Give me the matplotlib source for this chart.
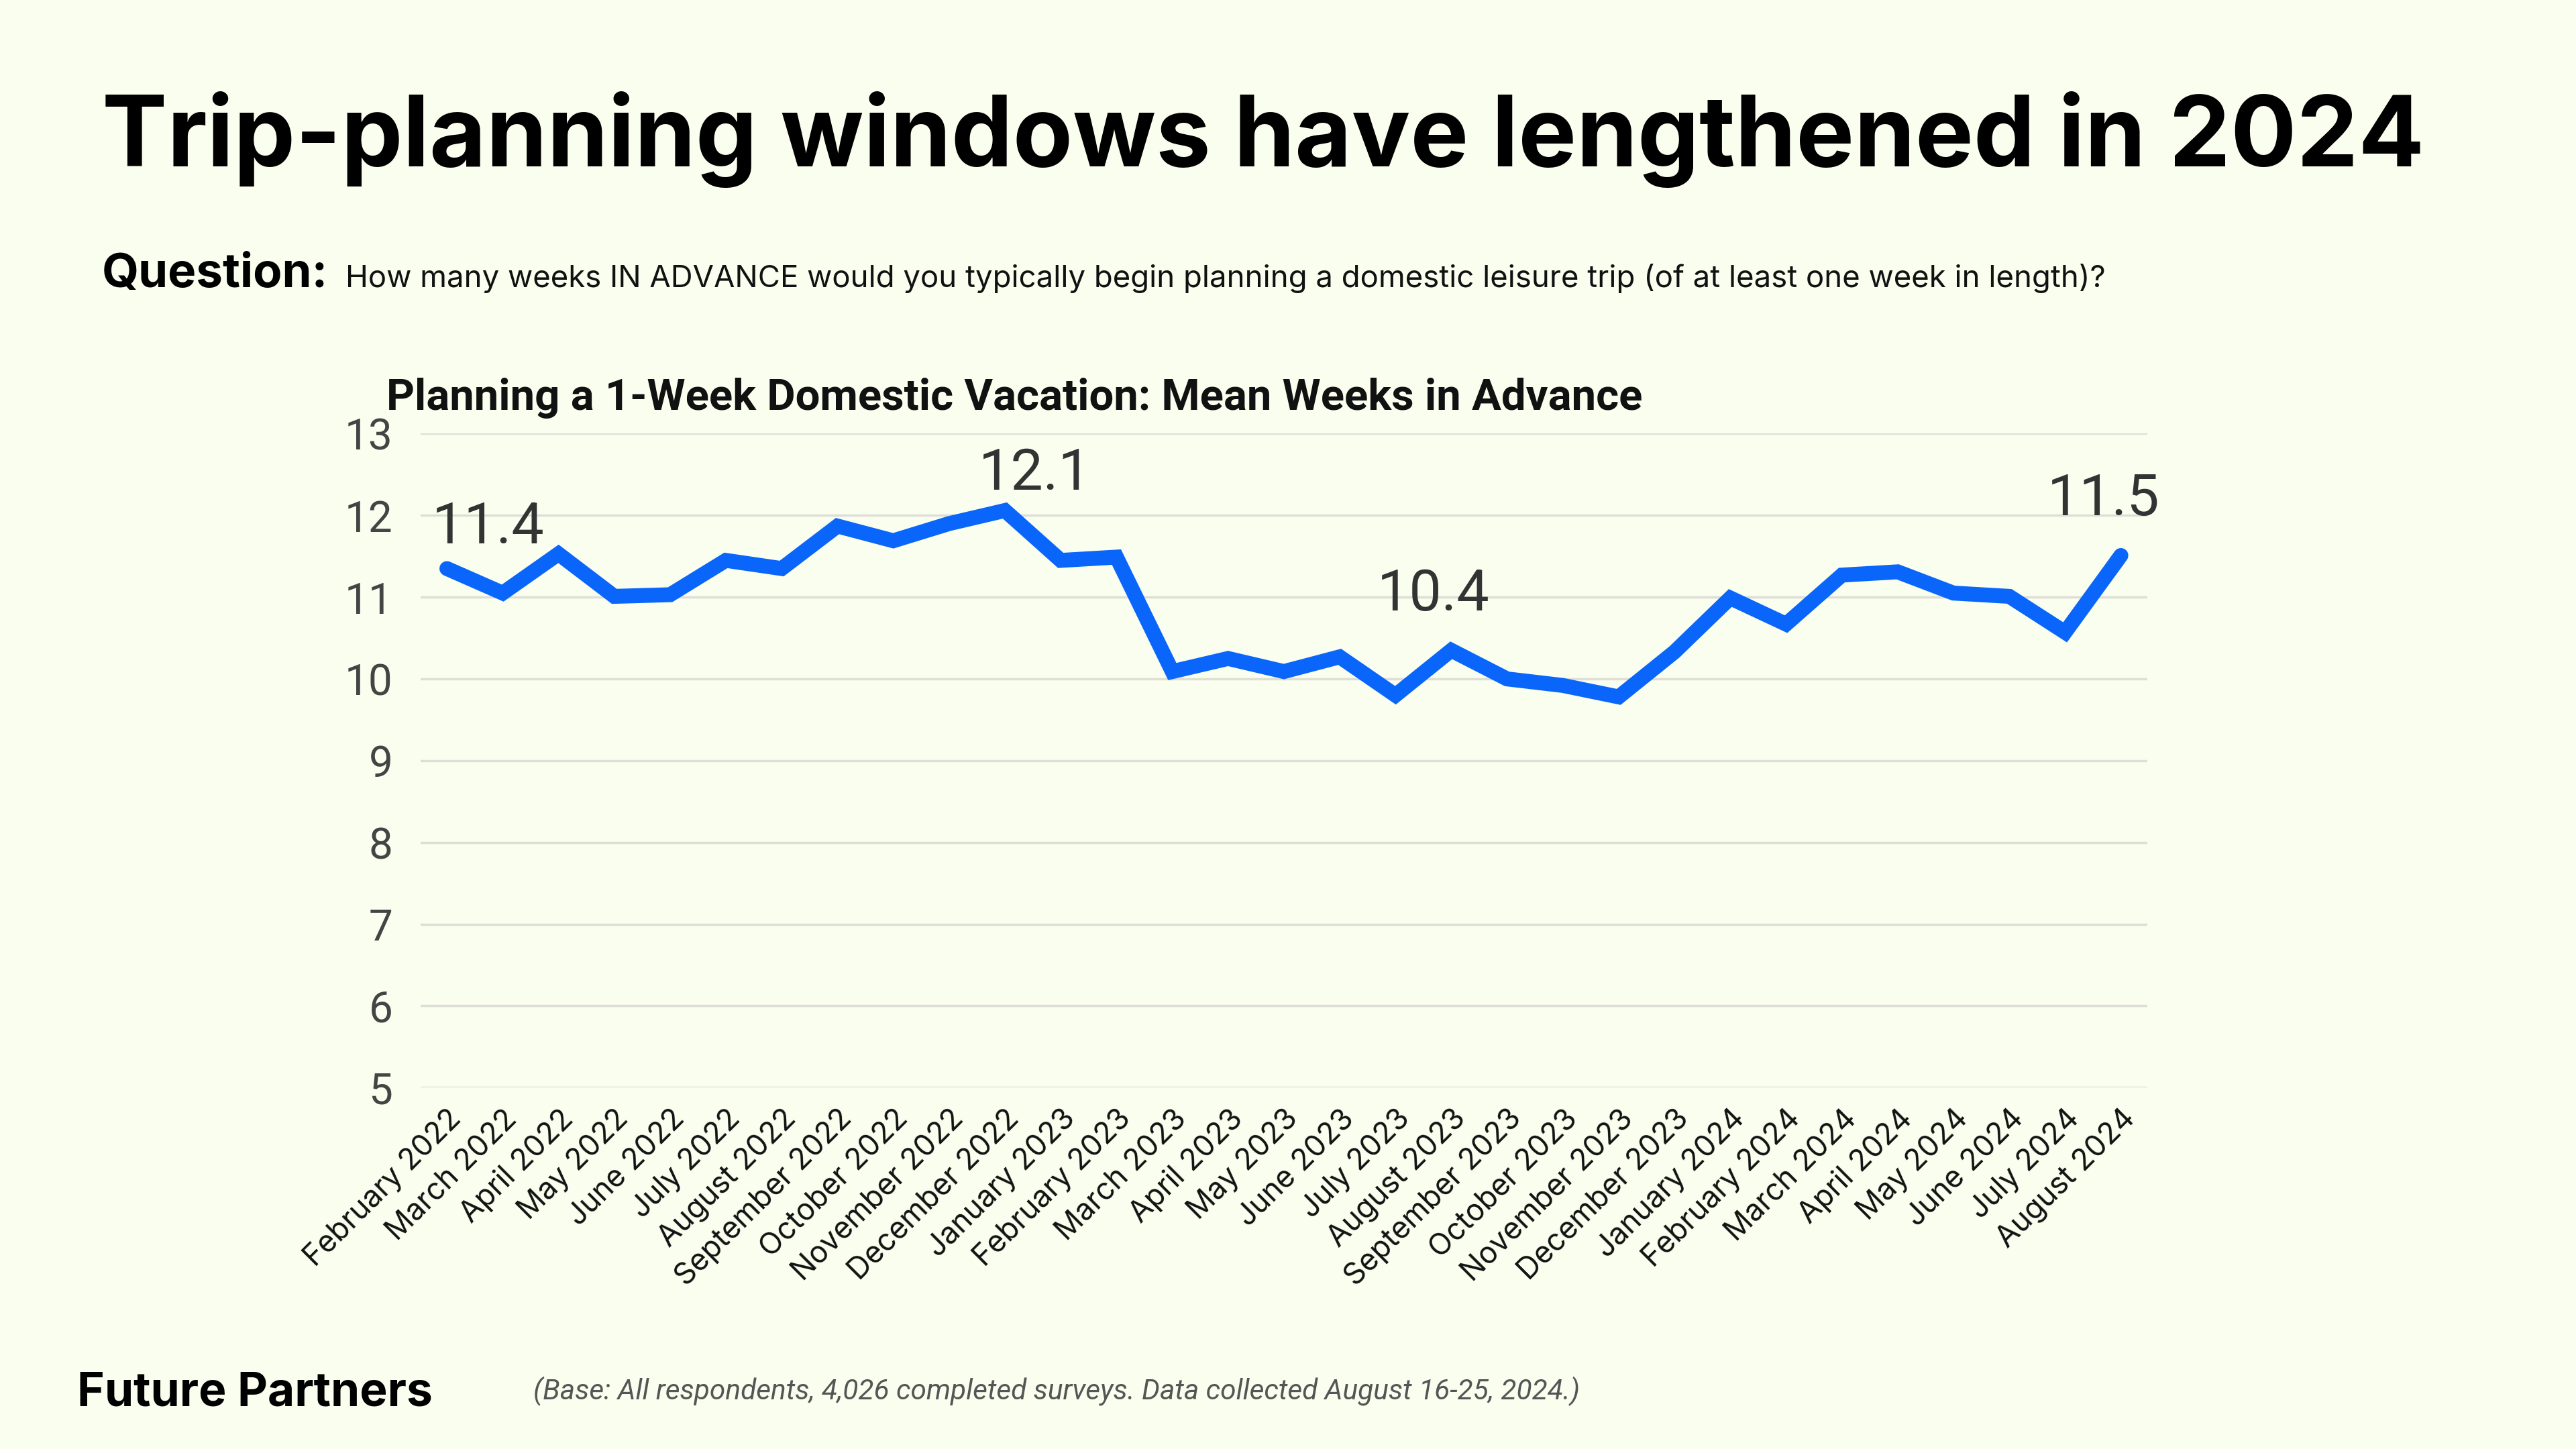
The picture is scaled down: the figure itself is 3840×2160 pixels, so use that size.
import matplotlib
matplotlib.use("Agg")
import matplotlib.pyplot as plt

months = ["February 2022", "March 2022", "April 2022", "May 2022", "June 2022",
          "July 2022", "August 2022", "September 2022", "October 2022",
          "November 2022", "December 2022", "January 2023", "February 2023",
          "March 2023", "April 2023", "May 2023", "June 2023", "July 2023",
          "August 2023", "September 2023", "October 2023", "November 2023",
          "December 2023", "January 2024", "February 2024", "March 2024",
          "April 2024", "May 2024", "June 2024", "July 2024", "August 2024"]
mean_weeks = [11.35, 11.05, 11.53, 11.01, 11.03, 11.45, 11.35, 11.87, 11.69,
              11.90, 12.06, 11.45, 11.49, 10.09, 10.25, 10.09, 10.27, 9.80,
              10.35, 10.00, 9.92, 9.78, 10.33, 10.99, 10.67, 11.27, 11.31,
              11.05, 11.01, 10.57, 11.51]
# labelled points: index, text, offset in points
callouts = [(0, "11.4", (44, 44)), (10, "12.1", (32, 39)),
            (18, "10.4", (-19, 60)), (30, "11.5", (-19, 60))]
yticks = [5, 6, 7, 8, 9, 10, 11, 12, 13]

bg = "#FAFEEE"
blue = "#0A66FA"

fig = plt.figure(figsize=(38.4, 21.6), dpi=100, facecolor=bg)
ax = fig.add_axes([0.1633, 0.2494, 0.6702, 0.4513])
ax.set_facecolor(bg)

x = list(range(len(months)))
ax.plot(x, mean_weeks, color=blue, lw=16, solid_joinstyle="miter",
        solid_capstyle="round", zorder=3)

for i, txt, off in callouts:
    ax.annotate(txt, (x[i], mean_weeks[i]), xytext=off, textcoords="offset points",
                ha="center", va="center", fontsize=62, color="#333333",
                family="Roboto", zorder=4)

ax.set_ylim(5, 13)
ax.set_xlim(-0.47, len(months) - 1 + 0.47)
ax.set_yticks(yticks)
ax.set_yticklabels([str(v) for v in yticks], fontsize=46, color="#444444",
                   family="Roboto")
ax.set_xticks(x)
ax.set_xticklabels(months, rotation=45, ha="right", rotation_mode="anchor",
                   fontsize=32, color="#111111", family="Inter")
ax.tick_params(axis="both", length=0)
ax.tick_params(axis="y", pad=30)
ax.tick_params(axis="x", pad=18)
ax.grid(axis="y", color="#DEDED6", lw=2.5)
ax.set_axisbelow(True)
for s in ax.spines.values():
    s.set_visible(False)

fig.text(0.0395, 0.885, "Trip-planning windows have lengthened in 2024",
         fontsize=105, fontweight="bold", family="Inter", color="#000000",
         va="baseline")
fig.text(0.0395, 0.802, "Question:", fontsize=51, fontweight="bold",
         family="Inter", color="#000000", va="baseline")
fig.text(0.134, 0.802,
         "How many weeks IN ADVANCE would you typically begin planning a domestic "
         "leisure trip (of at least one week in length)?",
         fontsize=32.8, family="Inter", color="#111111", va="baseline")
fig.text(0.150, 0.717, "Planning a 1-Week Domestic Vacation: Mean Weeks in Advance",
         fontsize=47, fontweight="bold", family="Roboto", color="#111111",
         va="baseline")
fig.text(0.030, 0.030, "Future Partners", fontsize=50, fontweight="bold",
         family="Inter", color="#000000", va="baseline")
fig.text(0.207, 0.034,
         "(Base: All respondents, 4,026 completed surveys. Data collected August 16-25, 2024.)",
         fontsize=30.5, style="italic", family="Roboto", color="#555555",
         va="baseline")

fig.savefig("out.png", dpi=100, facecolor=bg)
